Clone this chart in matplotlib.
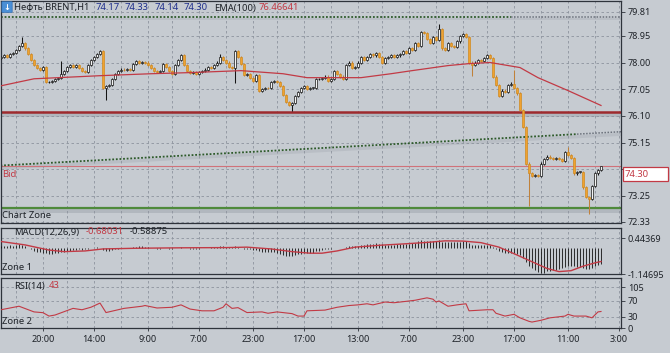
import matplotlib.pyplot as plt
from matplotlib.patches import Rectangle, FancyBboxPatch

plt.rcParams['font.family'] = ['Noto Sans', 'DejaVu Sans']

# ---- data (H1 bars, index 0..200) ----
closes = [
    78.20, 78.25, 78.20, 78.30, 78.35, 78.45, 78.60, 78.70, 78.50, 78.30,
    78.10, 77.90, 77.80, 77.75, 77.85, 77.30, 77.30, 77.35, 77.40, 77.45,
    77.60, 77.70, 77.85, 77.90, 77.85, 77.90, 77.80, 77.70, 77.65, 77.90,
    78.10, 78.20, 78.30, 78.42, 77.10, 77.15, 77.20, 77.40, 77.60, 77.70,
    77.75, 77.72, 77.78, 77.75, 77.95, 78.05, 78.00, 78.03, 78.00, 77.90,
    77.80, 77.70, 77.65, 77.70, 77.95, 77.85, 77.70, 77.60, 77.90, 78.10,
    78.25, 77.90, 77.70, 77.62, 77.65, 77.60, 77.65, 77.70, 77.75, 77.85,
    77.80, 77.90, 78.00, 78.20, 78.10, 78.00, 77.85, 77.80, 78.40, 78.20,
    77.95, 77.55, 77.60, 77.45, 77.35, 77.55, 77.00, 77.05, 77.10, 77.08,
    77.30, 77.35, 77.30, 77.15, 76.85, 76.60, 76.50, 76.55, 76.80, 76.95,
    77.10, 77.15, 77.05, 77.10, 77.10, 77.40, 77.40, 77.45, 77.50, 77.35,
    77.40, 77.70, 77.60, 77.50, 77.40, 77.90, 78.00, 77.80, 77.85, 78.00,
    78.20, 78.10, 78.20, 78.30, 78.25, 78.35, 78.20, 78.00, 78.15, 78.20,
    78.25, 78.20, 78.25, 78.30, 78.40, 78.35, 78.50, 78.45, 78.70, 78.60,
    79.10, 79.05, 78.85, 78.70, 78.90, 78.80, 79.20, 78.50, 78.45, 78.70,
    78.60, 78.55, 78.75, 78.95, 79.00, 78.90, 78.00, 77.90, 78.00, 78.10,
    78.05, 78.15, 78.25, 78.15, 77.50, 77.20, 76.80, 77.00, 76.95, 77.20,
    77.25, 77.10, 76.90, 76.30, 75.70, 74.40, 74.05, 73.95, 74.00, 73.95,
    74.40, 74.55, 74.65, 74.60, 74.55, 74.60, 74.55, 74.50, 74.80, 74.70,
    74.60, 74.05, 74.10, 74.10, 73.55, 73.20, 73.15, 73.60, 74.05, 74.17,
    74.30,
]
first_open = 78.15
wick_high = {7: 78.92, 20: 78.06, 33: 78.46, 73: 78.30, 146: 79.38,
             171: 77.74, 189: 75.00, 200: 74.33}
wick_low = {35: 76.65, 78: 77.28, 97: 76.28, 157: 77.53, 176: 72.90,
            196: 72.61, 200: 74.14}

ema_bars = [0, 11, 33, 50, 63, 80, 94, 102, 113, 120, 130, 137, 149, 156,
            163, 173, 179, 189, 200]
ema_vals = [77.17, 77.42, 77.53, 77.60, 77.64, 77.71, 77.60, 77.46, 77.46,
            77.46, 77.60, 77.71, 77.89, 77.96, 78.00, 77.82, 77.46, 77.00, 76.47]

resistance = 79.62
red_level = 76.25
bid = 74.30
support = 72.83
trend_start, trend_end = 74.33, 75.53   # bar 0 -> bar 206

macd_hist = [
    0.12, 0.10, 0.12, 0.14, 0.12, 0.15, 0.18, 0.16, 0.10,
    0.02, -0.05, -0.10, -0.15, -0.18,
    -0.20, -0.22, -0.25, -0.24, -0.22, -0.20, -0.18, -0.15, -0.12, -0.10, -0.08,
    -0.06, -0.05, -0.06, -0.04, -0.02, 0.0, 0.03,
    0.06, 0.02, -0.08, -0.12, -0.10, -0.07,
    -0.04, -0.02, 0.0, 0.01, 0.02, 0.03,
    0.05, 0.07, 0.08, 0.08, 0.06, 0.04, 0.02, 0.0, -0.02, -0.02, 0.0, 0.0,
    -0.02, -0.03, 0.0, 0.03, 0.06,
    0.03, 0.0, -0.02, -0.03, -0.03, -0.02, 0.0, 0.02, 0.03, 0.04, 0.05, 0.07,
    0.09, 0.08, 0.06, 0.04, 0.07, 0.08, 0.05, 0.02,
    -0.02, -0.03, -0.05, -0.07, -0.06, -0.12, -0.16, -0.18, -0.18, -0.17,
    -0.17, -0.19, -0.24, -0.30, -0.33, -0.35, -0.33, -0.30, -0.27,
    -0.24, -0.22, -0.22, -0.20, -0.19, -0.14, -0.11, -0.08, -0.05, -0.05,
    -0.03, 0.01, 0.01, 0.0, -0.01, 0.05, 0.09, 0.09, 0.10,
    0.12, 0.15, 0.16, 0.18, 0.20, 0.21, 0.22, 0.20, 0.17, 0.16, 0.16, 0.16,
    0.16, 0.17, 0.18, 0.18, 0.20, 0.21, 0.24, 0.25, 0.33, 0.36, 0.34, 0.33,
    0.33, 0.33, 0.32, 0.35, 0.30, 0.27, 0.28, 0.27, 0.26, 0.27, 0.29, 0.31,
    0.31, 0.22, 0.16, 0.14, 0.13, 0.13, 0.14, 0.15, 0.14,
    0.06, -0.03, -0.13, -0.17, -0.20, -0.20, -0.19, -0.20, -0.24, -0.32,
    -0.43, -0.63, -0.78, -0.90, -0.98, -1.08, -1.12, -1.10, -1.03, -1.01,
    -0.98, -0.95, -0.92, -0.90, -0.85, -0.80, -0.77, -0.80, -0.82, -0.83,
    -0.88, -0.93, -0.93, -0.88, -0.80, -0.74, -0.68,
]
sig_bars = [0, 8, 16, 21, 28, 34, 45, 60, 75, 82, 90, 97, 103, 107, 112, 118,
            127, 135, 142, 148, 154, 160, 166, 172, 177, 182, 186, 190, 194,
            198, 200]
sig_vals = [0.30, 0.15, -0.08, -0.15, -0.12, -0.03, 0.0, 0.02, 0.03, 0.05,
            -0.03, -0.15, -0.22, -0.22, -0.12, 0.05, 0.14, 0.20, 0.26, 0.33,
            0.32, 0.25, 0.05, -0.30, -0.60, -0.90, -1.04, -1.00, -0.80, -0.65,
            -0.59]

rsi_bars = [0, 6, 11, 14, 16, 18, 24, 27, 30, 33, 35, 41, 47, 48, 52, 57, 60,
            63, 67, 71, 74, 75, 77, 79, 82, 87, 89, 92, 97, 99, 101, 102, 108,
            112, 116, 119, 122, 124, 128, 131, 135, 138, 142, 144, 145, 146,
            149, 152, 155, 156, 162, 164, 165, 168, 171, 173, 176, 177, 180,
            183, 188, 189, 191, 195, 197, 199, 200]
rsi_vals = [47.5, 56.5, 42, 40, 31.3, 34, 51, 47.5, 54, 64.6, 40.3, 51, 56.5,
            58.3, 52, 53.8, 60, 49.3, 44.8, 44.8, 53.8, 62.8, 51, 52.9, 40.3,
            42, 38.5, 42, 37.6, 31.3, 31.3, 44.8, 46.6, 53.8, 58.3, 60, 62.8,
            60, 67.3, 65.5, 69, 71.8, 78, 74.5, 67.3, 70, 56.5, 60, 62.8, 44.8,
            47.5, 47.5, 38.5, 31.3, 35.8, 26.8, 17.8, 16, 20.5, 26.8, 31.3,
            35.8, 31.3, 31.3, 26.8, 42, 43]

time_labels = ['20:00', '14:00', '9:00', '7:00', '23:00', '17:00', '13:00',
               '7:00', '23:00', '17:00', '11:00', '3:00']
label_pos = [14, 31, 49, 66, 84, 101, 119, 136, 154, 171, 189, 206]
grid_mid = [5, 22, 40, 57, 75, 92, 110, 127, 145, 162, 180, 198]
price_ticks = [72.33, 73.25, 74.20, 75.15, 76.10, 77.05, 78.00, 78.95, 79.81]

# ---- style ----
W, H = 670, 353
BG = '#c6cbd1'
EDGE = '#2e333b'
TXT = '#1e2228'
GRID = '#8d949e'
RED = '#c23a45'
BLUE = '#1f2f8c'
DASH = (0, (3, 3))
DOTS = (0, (1, 1))

fig = plt.figure(figsize=(6.7, 3.53), dpi=100, facecolor=BG)


def fx(x):
    return x / W


def fy(y):
    return 1 - y / H


def panel(top, bottom):
    ax = fig.add_axes([fx(0.5), fy(bottom), fx(621) - fx(0.5), (bottom - top) / H])
    ax.set_facecolor(BG)
    for s in ax.spines.values():
        s.set_color(EDGE)
        s.set_linewidth(0.9)
    ax.set_xlim(-0.17, 206.67)
    ax.yaxis.tick_right()
    ax.tick_params(axis='y', length=3, width=0.6, pad=2, labelsize=6.5,
                   colors=EDGE, labelcolor=TXT)
    ax.set_xticks(label_pos)
    ax.set_xticks(grid_mid, minor=True)
    ax.tick_params(axis='x', which='both', length=0, labelbottom=False)
    ax.grid(True, which='both', axis='x', color=GRID, ls=DASH, lw=0.6)
    ax.grid(True, which='major', axis='y', color=GRID, ls=DASH, lw=0.6)
    ax.set_axisbelow(True)
    return ax


# ---- main price panel ----
ax = panel(1, 222.7)
ax.set_ylim(72.293, 80.191)
ax.set_yticks(price_ticks)
# the 74.20 label sits under the bid price box, so leave it blank
ax.set_yticklabels(['' if abs(p - 74.20) < 1e-6 else '%.2f' % p for p in price_ticks])

n = len(closes)
xs = list(range(n))
opens = [first_open] + closes[:-1]
highs, lows = [], []
for i in range(n):
    highs.append(wick_high.get(i, max(opens[i], closes[i]) + 0.04))
    lows.append(wick_low.get(i, min(opens[i], closes[i]) - 0.04))

bull = [c >= o for o, c in zip(opens, closes)]
wick_c = ['#141414' if b else '#c0813a' for b in bull]
ax.vlines(xs, lows, highs, colors=wick_c, lw=0.75, zorder=3)
bottoms = [min(o, c) for o, c in zip(opens, closes)]
heights = [max(abs(c - o), 0.02) for o, c in zip(opens, closes)]
ax.bar(xs, heights, bottom=bottoms, width=0.66,
       color=['#f3f3f3' if b else '#f0a230' for b in bull],
       edgecolor=['#141414' if b else '#cf8a22' for b in bull],
       linewidth=0.5, zorder=4)

ax.plot(ema_bars, ema_vals, color=RED, lw=0.9, zorder=5)

# horizontal levels with their soft shadows
ax.axhspan(red_level - 0.2, red_level - 0.03, color='#8c929b', alpha=0.35, lw=0, zorder=1)
ax.axhspan(support - 0.19, support - 0.03, color='#8c929b', alpha=0.35, lw=0, zorder=1)
ax.axhspan(resistance - 0.12, resistance - 0.02, color='#8c929b', alpha=0.2, lw=0, zorder=1)
ax.axhline(red_level, color='#9e2a2e', lw=1.8, zorder=2)
ax.axhline(support, color='#4f8a3b', lw=1.6, zorder=2)
ax.axhline(bid, color='#d0727a', lw=0.8, zorder=2)

ax.plot([-0.17, 170], [resistance, resistance], color='#2d5a2a', ls=DOTS, lw=1.3, zorder=2)
ax.plot([170, 206.67], [resistance, resistance], color='#6c727c', ls=DOTS, lw=1.1, zorder=2)

slope = (trend_end - trend_start) / 206.0
tx = [-0.17, 192, 206.67]
ty = [trend_start + slope * t for t in tx]
ax.fill_between(tx, [v - 0.13 for v in ty], [v - 0.02 for v in ty],
                color='#8c929b', alpha=0.22, lw=0, zorder=1)
ax.plot(tx[:2], ty[:2], color='#2d5a2a', ls=DOTS, lw=1.3, zorder=2)
ax.plot(tx[1:], ty[1:], color='#6c727c', ls=DOTS, lw=1.1, zorder=2)

# ---- MACD panel ----
axm = panel(227.7, 274)
axm.set_ylim(-1.14695, 0.916)
axm.set_yticks([-1.14695, 0.44369])
axm.set_yticklabels(['-1.14695', '0.44369'])
axm.vlines(xs, 0, macd_hist, colors='#111111', lw=0.6, zorder=3)
axm.plot(sig_bars, sig_vals, color=RED, lw=1.0, zorder=4)

# ---- RSI panel ----
axr = panel(278, 328.3)
axr.set_ylim(0, 128.8)
axr.set_yticks([0, 30, 70, 105])
axr.plot(rsi_bars, rsi_vals, color=RED, lw=0.8, zorder=3)
axr.tick_params(axis='x', which='major', length=2, width=0.6, colors=EDGE,
                labelbottom=True, labelsize=6.5, labelcolor=TXT, pad=3)
axr.set_xticklabels(time_labels)

# ---- texts ----
fs = 6.8
fig.patches.append(FancyBboxPatch((fx(2.5), fy(12)), fx(9), 10 / H,
                                  boxstyle='round,pad=0.001', fc='#4a8fd6',
                                  ec='#2f6cb0', lw=0.5, transform=fig.transFigure))
fig.text(fx(7), fy(7), '\u2193', color='white', fontsize=6, ha='center', va='center',
         family=['DejaVu Sans'], fontweight='bold')
fig.text(fx(14), fy(8), 'Нефть BRENT,H1', color=TXT, fontsize=fs, va='center')
for xp, t in zip([96, 125, 155, 184], ['74.17', '74.33', '74.14', '74.30']):
    fig.text(fx(xp), fy(8), t, color=BLUE, fontsize=fs, va='center')
fig.text(fx(214), fy(8), 'EMA(100)', color=TXT, fontsize=fs, va='center')
fig.text(fx(259), fy(8), '76.46641', color=RED, fontsize=fs, va='center')

fig.text(fx(2), fy(174), 'Bid', color=RED, fontsize=fs, va='center')
fig.text(fx(2), fy(216), 'Chart Zone', color=TXT, fontsize=fs, va='center')

fig.text(fx(14), fy(232), 'MACD(12,26,9)', color=TXT, fontsize=fs, va='center')
fig.text(fx(86), fy(232), '-0.68031', color=RED, fontsize=fs, va='center')
fig.text(fx(130), fy(232), '-0.58875', color=TXT, fontsize=fs, va='center')
fig.text(fx(2), fy(268), 'Zone 1', color=TXT, fontsize=fs, va='center')

fig.text(fx(14), fy(286), 'RSI(14)', color=TXT, fontsize=fs, va='center')
fig.text(fx(49), fy(286), '43', color=RED, fontsize=fs, va='center')
fig.text(fx(2), fy(321), 'Zone 2', color=TXT, fontsize=fs, va='center')

# bid price box on the right scale
fig.patches.append(Rectangle((fx(623), fy(181)), fx(45), 14 / H, fc='white',
                             ec=RED, lw=0.9, transform=fig.transFigure))
fig.text(fx(625), fy(174), '%.2f' % bid, color=RED, fontsize=fs, va='center')

fig.savefig('out.png', dpi=100, facecolor=BG)
